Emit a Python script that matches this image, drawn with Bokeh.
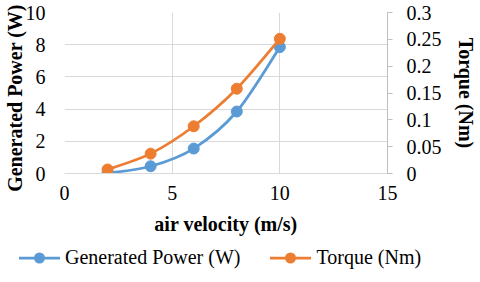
import math
from bokeh.plotting import figure
from bokeh.layouts import column
from bokeh.models import Range1d, LinearAxis, FixedTicker, ColumnDataSource, Div
from bokeh.embed import file_html
from bokeh.resources import INLINE

velocity = [2, 4, 6, 8, 10]
power = [0.02, 0.45, 1.55, 3.85, 7.85]
torque = [0.0075, 0.037, 0.088, 0.158, 0.251]
x_ticks = [0, 5, 10, 15]
power_ticks = [0, 2, 4, 6, 8, 10]
torque_ticks = [0, 0.05, 0.1, 0.15, 0.2, 0.25, 0.3]
torque_tick_labels = ["0", "0.05", "0.1", "0.15", "0.2", "0.25", "0.3"]
series_names = ["Generated Power (W)", "Torque (Nm)"]

BLUE = "#5B9BD5"
ORANGE = "#ED7D31"
GRID = "#D9D9D9"
FONT = "Liberation Serif, Times New Roman, DejaVu Serif, serif"


def smooth_segments(xs, ys):
    n = len(xs)
    d = dict(x0=[], y0=[], x1=[], y1=[], cx0=[], cy0=[], cx1=[], cy1=[])
    for i in range(n - 1):
        a = max(i - 1, 0)
        b = min(i + 2, n - 1)
        d["x0"].append(xs[i]); d["y0"].append(ys[i])
        d["x1"].append(xs[i + 1]); d["y1"].append(ys[i + 1])
        d["cx0"].append(xs[i] + (xs[i + 1] - xs[a]) / 6)
        d["cy0"].append(ys[i] + (ys[i + 1] - ys[a]) / 6)
        d["cx1"].append(xs[i + 1] - (xs[b] - xs[i]) / 6)
        d["cy1"].append(ys[i + 1] - (ys[b] - ys[i]) / 6)
    return ColumnDataSource(d)


p = figure(frame_width=323, frame_height=161, x_range=Range1d(0, 15), y_range=Range1d(0, 10),
           output_backend="svg", toolbar_location=None,
           min_border_left=62, min_border_right=87, min_border_top=12, min_border_bottom=68)
p.extra_y_ranges = {"torque": Range1d(0, 0.3)}
p.outline_line_color = None

p.xgrid.ticker = FixedTicker(ticks=x_ticks)
p.ygrid.ticker = FixedTicker(ticks=power_ticks)
p.xgrid.grid_line_color = GRID
p.ygrid.grid_line_color = GRID
p.xgrid.grid_line_width = 1
p.ygrid.grid_line_width = 1

xa = p.xaxis[0]
xa.ticker = FixedTicker(ticks=x_ticks)
xa.axis_label = "air velocity (m/s)"
ya = p.yaxis[0]
ya.ticker = FixedTicker(ticks=power_ticks)
ya.axis_label = series_names[0] + "\u00a0\u00a0"

ra = LinearAxis(y_range_name="torque", ticker=FixedTicker(ticks=torque_ticks),
                major_label_overrides=dict(zip(torque_ticks, torque_tick_labels)),
                axis_label=series_names[1])
p.add_layout(ra, "right")

for ax in (xa, ya, ra):
    ax.major_label_text_font = FONT
    ax.major_label_text_font_size = "20px"
    ax.major_label_text_color = "black"
    ax.axis_label_text_font = FONT
    ax.axis_label_text_font_size = "20px"
    ax.axis_label_text_font_style = "bold"
    ax.axis_label_text_color = "black"
    ax.minor_tick_line_color = None
    ax.major_tick_in = 0

xa.axis_line_color = GRID
xa.major_tick_line_color = None
xa.major_tick_out = 0
xa.major_label_standoff = 12
xa.axis_label_standoff = 10

ya.axis_line_color = None
ya.major_tick_line_color = None
ya.major_tick_out = 0
ya.major_label_standoff = 19
ya.axis_label_standoff = -3

ra.axis_line_color = "#BFBFBF"
ra.major_tick_line_color = "#BFBFBF"
ra.major_tick_out = 5
ra.major_label_standoff = 14
ra.axis_label_standoff = 10

src_p = ColumnDataSource(dict(x=velocity, y=power))
src_t = ColumnDataSource(dict(x=velocity, y=torque))

p.bezier(x0="x0", y0="y0", x1="x1", y1="y1", cx0="cx0", cy0="cy0", cx1="cx1", cy1="cy1",
         source=smooth_segments(velocity, power), line_color=BLUE, line_width=2.75)
p.scatter("x", "y", source=src_p, size=11, fill_color=BLUE, line_color=BLUE)
p.bezier(x0="x0", y0="y0", x1="x1", y1="y1", cx0="cx0", cy0="cy0", cx1="cx1", cy1="cy1",
         source=smooth_segments(velocity, torque), line_color=ORANGE, line_width=2.75,
         y_range_name="torque")
p.scatter("x", "y", source=src_t, size=11, fill_color=ORANGE, line_color=ORANGE,
          y_range_name="torque")

# legend strip below the chart
parts = []
for i, (name, color) in enumerate(zip(series_names, [BLUE, ORANGE])):
    gap = "30px" if i < len(series_names) - 1 else "0px"
    parts.append(
        '<svg width="41" height="14" style="flex:none">'
        f'<line x1="0" y1="7" x2="41" y2="7" stroke="{color}" stroke-width="2.75"/>'
        f'<circle cx="20.5" cy="7" r="5.5" fill="{color}"/></svg>'
        f'<span style="margin-left:5px;margin-right:{gap}">{name}</span>'
    )
legend_html = (
    '<div style="display:flex;align-items:center;height:33px;padding-left:19px;'
    "font-family:'Liberation Serif','Times New Roman',serif;font-size:20px;"
    'color:black;white-space:nowrap">' + "".join(parts) + "</div>"
)
lg = Div(text=legend_html, width=472, height=33, margin=0)

open("out.html", "w").write(file_html(column(p, lg, spacing=0), INLINE))
